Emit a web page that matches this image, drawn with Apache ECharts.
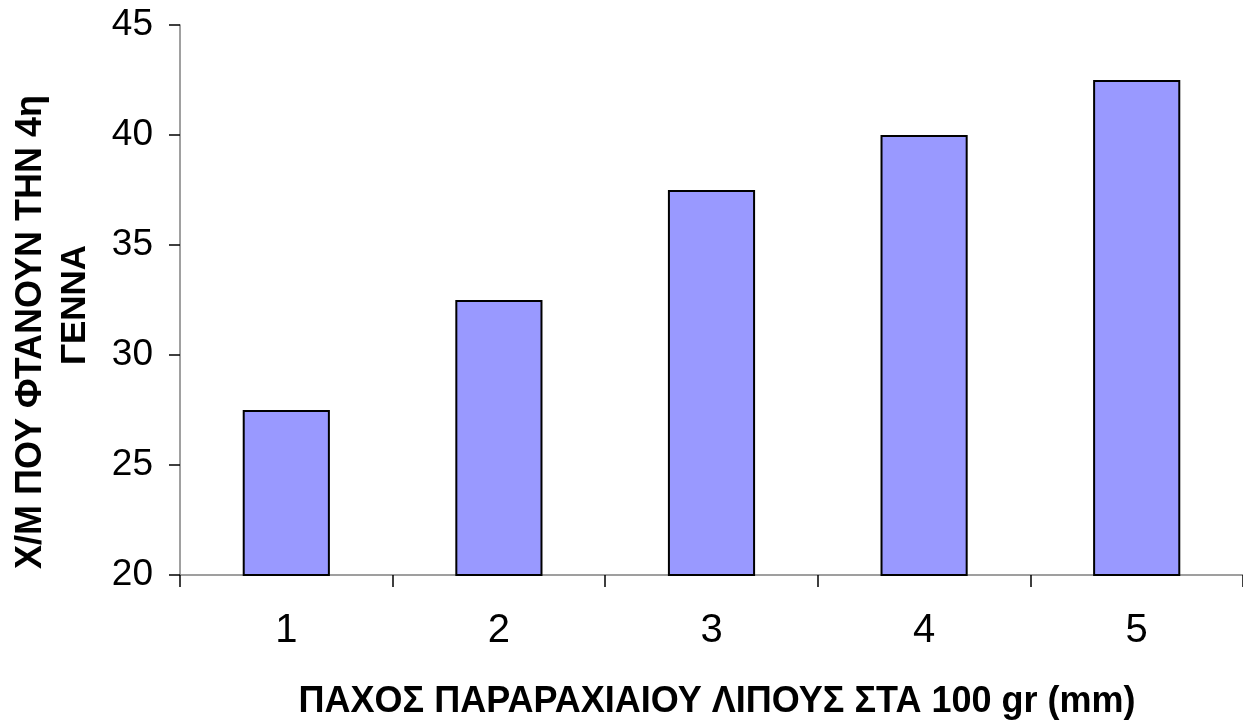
<!DOCTYPE html>
<html>
<head>
<meta charset="utf-8">
<script src="https://cdn.jsdelivr.net/npm/echarts@6/dist/echarts.min.js"></script>
<style>
  html, body { margin: 0; padding: 0; background: #ffffff; }
  #chart { width: 1243px; height: 725px; }
</style>
</head>
<body>
<div id="chart"></div>
<script>
// Backfat thickness classes (mm) and sows reaching the 4th parity
const categories = ['1', '2', '3', '4', '5'];
const values = [27.5, 32.5, 37.5, 40, 42.5];

const xTitle = 'ΠΑΧΟΣ ΠΑΡΑΡΑΧΙΑΙΟΥ ΛΙΠΟΥΣ ΣΤΑ 100 gr (mm)';
const yTitleLines = ['Χ/Μ ΠΟΥ ΦΤΑΝΟΥΝ ΤΗΝ 4η', 'ΓΕΝΝΑ'];

const FONT = '"Liberation Sans", Arial, sans-serif';

const chart = echarts.init(document.getElementById('chart'), null, { renderer: 'canvas' });

chart.setOption({
  animation: false,
  backgroundColor: '#ffffff',
  grid: { left: 180, top: 25, width: 1071, bottom: 150, containLabel: false },
  xAxis: {
    type: 'category',
    data: categories,
    boundaryGap: true,
    axisLine: { show: true, lineStyle: { color: '#808080', width: 1.5 } },
    axisTick: { show: true, length: 12, lineStyle: { color: '#000000', width: 1.5 } },
    axisLabel: { margin: 36, fontSize: 40, color: '#000000', fontFamily: FONT },
    splitLine: { show: false }
  },
  yAxis: {
    type: 'value',
    min: 20,
    max: 45,
    interval: 5,
    axisLine: { show: true, lineStyle: { color: '#808080', width: 1.5 } },
    axisTick: { show: true, length: 11, lineStyle: { color: '#000000', width: 1.5 } },
    axisLabel: { margin: 27, fontSize: 37, color: '#000000', fontFamily: FONT },
    splitLine: { show: false }
  },
  series: [{
    type: 'bar',
    data: values,
    barWidth: '41%',
    itemStyle: { color: '#9999ff', borderColor: '#000000', borderWidth: 2 }
  }],
  graphic: [
    {
      type: 'text',
      x: 717, y: 702,
      style: {
        text: xTitle,
        fill: '#000000',
        font: 'bold 36px ' + FONT,
        textAlign: 'center',
        textVerticalAlign: 'middle'
      }
    },
    {
      type: 'text',
      x: 31, y: 332,
      rotation: Math.PI / 2,
      style: {
        text: yTitleLines[0],
        fill: '#000000',
        font: 'bold 36px ' + FONT,
        textAlign: 'center',
        textVerticalAlign: 'middle'
      }
    },
    {
      type: 'text',
      x: 75, y: 305,
      rotation: Math.PI / 2,
      style: {
        text: yTitleLines[1],
        fill: '#000000',
        font: 'bold 35px ' + FONT,
        textAlign: 'center',
        textVerticalAlign: 'middle'
      }
    }
  ]
});
</script>
</body>
</html>
